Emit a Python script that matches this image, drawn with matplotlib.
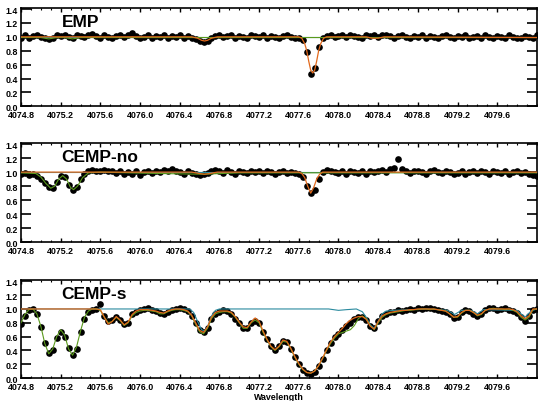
import numpy as np
import matplotlib
matplotlib.use("Agg")
import matplotlib.pyplot as plt
from matplotlib.ticker import MultipleLocator

plt.rcParams['font.family'] = ['Liberation Sans', 'DejaVu Sans']
plt.rcParams['font.weight'] = 'bold'

# ---------------- data ----------------
# observed spectra sampled on a 0.04 A grid from 4074.80 to 4080.00
wave_obs = np.round(np.arange(4074.80, 4080.0001, 0.04), 2)

emp_obs = [
    0.99, 1.02, 0.98, 1.01, 1.02, 1.00, 0.98, 0.97, 0.99, 1.02,
    1.01, 1.03, 1.00, 0.99, 1.02, 1.01, 1.00, 1.03, 1.04, 1.01,
    0.99, 1.02, 1.00, 0.98, 1.01, 1.03, 1.00, 1.02, 1.06, 1.01,
    0.99, 1.00, 1.02, 0.98, 1.01, 1.00, 1.02, 0.99, 1.01, 1.00,
    1.02, 0.99, 1.01, 0.98, 0.97, 0.94, 0.92, 0.94, 0.98, 1.01,
    1.02, 1.00, 1.01, 1.02, 0.99, 1.01, 1.00, 0.99, 1.02, 1.01,
    1.00, 1.02, 0.99, 1.01, 1.00, 0.98, 1.01, 1.02, 1.00, 0.98,
    0.99, 0.95, 0.78, 0.47, 0.55, 0.86, 0.99, 1.01, 1.02, 1.00,
    1.01, 1.02, 1.00, 1.03, 1.01, 1.00, 0.99, 1.02, 1.01, 1.03,
    1.00, 1.02, 1.03, 1.01, 0.99, 1.01, 1.02, 1.00, 0.99, 1.01,
    1.00, 1.02, 0.99, 1.01, 1.00, 0.98, 1.01, 1.02, 1.00, 0.99,
    1.01, 1.00, 1.02, 0.99, 1.00, 1.01, 0.99, 1.02, 1.00, 0.98,
    1.01, 1.00, 0.99, 1.02, 1.00, 0.98, 0.99, 1.01, 1.00, 0.99, 1.02,
]

cempno_obs = [
    0.97, 0.99, 0.96, 0.98, 0.95, 0.90, 0.84, 0.79, 0.78, 0.86,
    0.95, 0.93, 0.82, 0.75, 0.79, 0.90, 0.98, 1.02, 1.03, 1.01,
    1.02, 1.03, 1.01, 1.02, 0.99, 1.01, 0.97, 1.00, 0.98, 1.01,
    0.96, 1.00, 1.02, 0.99, 1.01, 1.00, 1.03, 1.01, 1.05, 1.02,
    1.00, 0.98, 1.01, 0.99, 0.97, 0.96, 0.97, 0.99, 1.02, 1.03,
    1.01, 0.99, 1.03, 1.00, 0.98, 1.02, 1.00, 0.99, 1.01, 1.00,
    1.01, 0.99, 1.02, 1.00, 0.98, 1.00, 1.01, 0.99, 1.00, 0.99,
    0.98, 0.93, 0.80, 0.70, 0.74, 0.90, 1.00, 1.03, 1.02, 1.00,
    0.99, 1.01, 0.98, 1.02, 1.00, 0.99, 1.01, 0.98, 1.02, 1.00,
    1.01, 1.03, 1.00, 1.04, 1.06, 1.18, 1.05, 1.02, 0.99, 1.01,
    1.02, 1.00, 0.98, 1.01, 1.03, 1.00, 0.99, 1.02, 1.00, 0.98,
    0.99, 1.01, 0.98, 1.00, 1.02, 0.99, 1.01, 1.00, 0.98, 1.01,
    1.00, 0.99, 1.02, 0.98, 1.00, 1.01, 0.99, 1.00, 0.98, 0.96, 0.95,
]

cemps_obs = [
    0.78, 0.90, 0.98, 1.00, 0.92, 0.74, 0.50, 0.36, 0.40, 0.58,
    0.67, 0.60, 0.44, 0.34, 0.42, 0.66, 0.86, 0.96, 0.99, 1.00,
    1.07, 0.90, 0.82, 0.84, 0.88, 0.84, 0.78, 0.80, 0.92, 0.96,
    0.99, 1.00, 1.01, 0.98, 0.97, 0.94, 0.92, 0.96, 0.99, 1.00,
    1.01, 1.00, 0.97, 0.90, 0.80, 0.70, 0.66, 0.73, 0.86, 0.93,
    0.96, 0.98, 0.97, 0.93, 0.86, 0.79, 0.73, 0.72, 0.79, 0.83,
    0.80, 0.67, 0.56, 0.46, 0.41, 0.46, 0.54, 0.52, 0.42, 0.31,
    0.20, 0.12, 0.07, 0.06, 0.09, 0.17, 0.28, 0.40, 0.51, 0.59,
    0.64, 0.70, 0.76, 0.80, 0.85, 0.89, 0.89, 0.84, 0.75, 0.72,
    0.82, 0.90, 0.93, 0.95, 0.96, 0.98, 0.97, 0.99, 1.00, 0.99,
    1.01, 1.00, 1.02, 1.01, 1.00, 0.98, 0.97, 0.96, 0.92, 0.87,
    0.89, 0.95, 0.98, 0.97, 0.93, 0.90, 0.93, 0.99, 1.02, 1.01,
    0.99, 1.00, 1.01, 0.99, 0.97, 0.94, 0.88, 0.83, 0.90, 0.98, 1.00,
]

# synthetic spectra
cont_wave = [4074.8, 4080.0]
cont_flux = [1.0, 1.0]

emp_orange_wave = [4074.80, 4076.52, 4076.58, 4076.62, 4076.65, 4076.68, 4076.72, 4076.78,
                   4077.60, 4077.63, 4077.66, 4077.68, 4077.70, 4077.72, 4077.74, 4077.76,
                   4077.78, 4077.80, 4077.82, 4077.85, 4077.88, 4078.28, 4078.34, 4078.40,
                   4078.46, 4080.00]
emp_orange_flux = [1.00, 1.00, 0.98, 0.95, 0.94, 0.95, 0.98, 1.00,
                   1.00, 0.98, 0.90, 0.80, 0.65, 0.52, 0.48, 0.52,
                   0.65, 0.80, 0.90, 0.98, 1.00, 1.00, 0.98, 0.98,
                   1.00, 0.99]
emp_green_wave = [4074.80, 4075.00, 4075.08, 4075.16, 4075.24, 4075.32, 4075.40, 4080.00]
emp_green_flux = [0.99, 0.99, 0.97, 0.99, 0.99, 0.97, 0.99, 0.99]

cempno_orange_wave = [4074.80, 4076.52, 4076.60, 4076.65, 4076.70, 4076.78,
                      4077.60, 4077.63, 4077.66, 4077.69, 4077.72, 4077.75,
                      4077.78, 4077.81, 4077.84, 4080.00]
cempno_orange_flux = [1.00, 1.00, 0.98, 0.97, 0.98, 1.00,
                      1.00, 0.98, 0.92, 0.80, 0.70, 0.78,
                      0.90, 0.97, 1.00, 1.00]
cempno_green_wave = [4074.80, 4074.95, 4075.00, 4075.05, 4075.10, 4075.14, 4075.18,
                     4075.22, 4075.26, 4075.30, 4075.33, 4075.37, 4075.42, 4075.48,
                     4075.60, 4076.20, 4076.64, 4077.00, 4080.00]
cempno_green_flux = [0.99, 0.98, 0.93, 0.84, 0.77, 0.80, 0.90,
                     0.95, 0.90, 0.78, 0.75, 0.80, 0.92, 0.99,
                     1.00, 0.98, 0.97, 0.99, 0.99]

cemps_green = [
    0.80, 0.92, 0.99, 1.00, 0.93, 0.75, 0.50, 0.35, 0.42, 0.60,
    0.70, 0.62, 0.42, 0.33, 0.45, 0.68, 0.88, 0.97, 1.00, 1.00,
    0.98, 0.88, 0.80, 0.82, 0.88, 0.83, 0.76, 0.80, 0.90, 0.95,
    0.97, 0.98, 0.98, 0.97, 0.96, 0.93, 0.93, 0.96, 0.98, 0.99,
    0.99, 0.98, 0.96, 0.90, 0.78, 0.67, 0.64, 0.72, 0.86, 0.93,
    0.95, 0.96, 0.96, 0.94, 0.88, 0.80, 0.72, 0.72, 0.80, 0.84,
    0.80, 0.66, 0.55, 0.45, 0.40, 0.45, 0.53, 0.52, 0.42, 0.30,
    0.20, 0.12, 0.08, 0.07, 0.10, 0.18, 0.28, 0.40, 0.50, 0.58,
    0.64, 0.66, 0.68, 0.70, 0.76, 0.86, 0.90, 0.86, 0.76, 0.70,
    0.80, 0.88, 0.92, 0.94, 0.95, 0.96, 0.97, 0.98, 0.98, 0.99,
    0.99, 1.00, 1.00, 0.99, 1.00, 0.99, 0.98, 0.97, 0.93, 0.88,
    0.88, 0.94, 0.98, 0.98, 0.95, 0.90, 0.92, 0.98, 1.00, 1.01,
    1.00, 1.00, 0.99, 1.00, 0.98, 0.95, 0.88, 0.84, 0.88, 0.99, 1.00,
]

cemps_orange = [
    1.00, 1.00, 1.00, 1.00, 1.00, 1.00, 1.00, 1.00, 1.00, 1.00,
    1.00, 1.00, 1.00, 1.00, 1.00, 1.00, 1.00, 1.00, 1.00, 1.00,
    0.99, 0.88, 0.78, 0.82, 0.89, 0.84, 0.77, 0.81, 0.92, 0.97,
    0.99, 0.99, 0.99, 0.98, 0.97, 0.95, 0.94, 0.97, 0.99, 1.00,
    1.00, 0.99, 0.97, 0.91, 0.80, 0.69, 0.66, 0.74, 0.88, 0.95,
    0.97, 0.97, 0.97, 0.95, 0.89, 0.81, 0.74, 0.73, 0.81, 0.87,
    0.82, 0.68, 0.56, 0.46, 0.41, 0.46, 0.55, 0.53, 0.43, 0.31,
    0.21, 0.13, 0.08, 0.07, 0.10, 0.18, 0.29, 0.41, 0.52, 0.60,
    0.66, 0.72, 0.79, 0.84, 0.87, 0.89, 0.89, 0.85, 0.75, 0.71,
    0.82, 0.90, 0.93, 0.95, 0.96, 0.97, 0.98, 0.98, 0.99, 0.99,
    1.00, 1.00, 1.00, 1.00, 1.00, 0.99, 0.98, 0.97, 0.93, 0.88,
    0.89, 0.95, 0.98, 0.98, 0.95, 0.91, 0.93, 0.98, 1.00, 1.00,
    1.00, 1.00, 1.00, 1.00, 0.99, 0.96, 0.90, 0.86, 0.90, 1.00, 1.00,
]

cemps_teal_wave = [4074.80, 4076.50, 4076.54, 4076.58, 4076.62, 4076.65, 4076.68, 4076.72,
                   4076.76, 4076.80, 4077.90, 4078.00, 4078.08, 4078.18, 4078.24, 4078.28,
                   4078.32, 4078.36, 4078.40, 4078.44, 4078.48, 4078.56, 4078.90, 4079.10,
                   4079.17, 4079.24, 4079.34, 4079.40, 4079.46, 4079.80, 4079.88, 4079.94,
                   4080.00]
cemps_teal_flux = [1.00, 1.00, 0.95, 0.82, 0.70, 0.68, 0.74, 0.90,
                   0.98, 1.00, 1.00, 0.98, 0.99, 1.00, 0.96, 0.88,
                   0.77, 0.72, 0.82, 0.93, 0.97, 0.98, 1.00, 0.98,
                   0.92, 0.98, 0.98, 0.93, 0.99, 0.98, 0.88, 0.97,
                   1.00]

panel_names = ["EMP", "CEMP-no", "CEMP-s"]
xtick_labels = ["4074.8", "4075.2", "4075.6", "4076.0", "4076.4", "4076.8",
                "4077.2", "4077.6", "4078.0", "4078.4", "4078.8", "4079.2", "4079.6"]
ytick_labels = ["0.0", "0.2", "0.4", "0.6", "0.8", "1.0", "1.2", "1.4"]

# ---------------- styling ----------------
c_teal = '#2a8a9e'
c_green = '#5a9a1c'
c_orange = '#e2691c'

fig = plt.figure(figsize=(5.38, 4.02), dpi=100)
positions = [
    [0.039, 0.7331, 0.959, 0.2445],
    [0.039, 0.3948, 0.959, 0.2470],
    [0.039, 0.0572, 0.959, 0.2430],
]

obs_sets = [emp_obs, cempno_obs, cemps_obs]
teal_sets = [(cont_wave, cont_flux), (cont_wave, cont_flux), (cemps_teal_wave, cemps_teal_flux)]
green_sets = [(emp_green_wave, emp_green_flux), (cempno_green_wave, cempno_green_flux),
              (wave_obs, cemps_green)]
orange_sets = [(emp_orange_wave, emp_orange_flux), (cempno_orange_wave, cempno_orange_flux),
               (wave_obs, cemps_orange)]

xticks = [float(t) for t in xtick_labels]
yticks = [float(t) for t in ytick_labels]

for i in range(3):
    ax = fig.add_axes(positions[i])
    ax.plot(wave_obs, obs_sets[i], 'o', color='black', ms=4.8, mew=0, zorder=2)
    ax.plot(*teal_sets[i], color=c_teal, lw=0.8, zorder=3)
    ax.plot(*green_sets[i], color=c_green, lw=0.8, zorder=4)
    ax.plot(*orange_sets[i], color=c_orange, lw=0.9, zorder=5)
    ax.set_xlim(4074.8, 4080.0)
    ax.set_ylim(0, 1.415)
    ax.set_xticks(xticks)
    ax.set_xticklabels(xtick_labels)
    ax.set_yticks(yticks)
    ax.set_yticklabels(ytick_labels)
    ax.xaxis.set_minor_locator(MultipleLocator(0.1))
    ax.tick_params(axis='x', which='major', direction='in', length=3, width=1.0,
                   top=True, bottom=True, labelsize=6.4, pad=3)
    ax.tick_params(axis='x', which='minor', direction='in', length=1.5, width=0.8,
                   top=True, bottom=True)
    ax.tick_params(axis='y', which='major', direction='in', length=7.5, width=1.2,
                   left=True, right=True, labelsize=6.4, pad=2)
    for lab in ax.get_xticklabels() + ax.get_yticklabels():
        lab.set_fontweight('bold')
    for sp in ax.spines.values():
        sp.set_linewidth(1.2)
    ax.text(0.079, 0.815, panel_names[i], transform=ax.transAxes, fontsize=12.5,
            fontweight='bold', ha='left', va='baseline')

fig.text(0.5186, 0.0105, "Wavelength", fontsize=6.4, fontweight='bold', ha='center', va='center')

fig.savefig("out.png", dpi=100)
